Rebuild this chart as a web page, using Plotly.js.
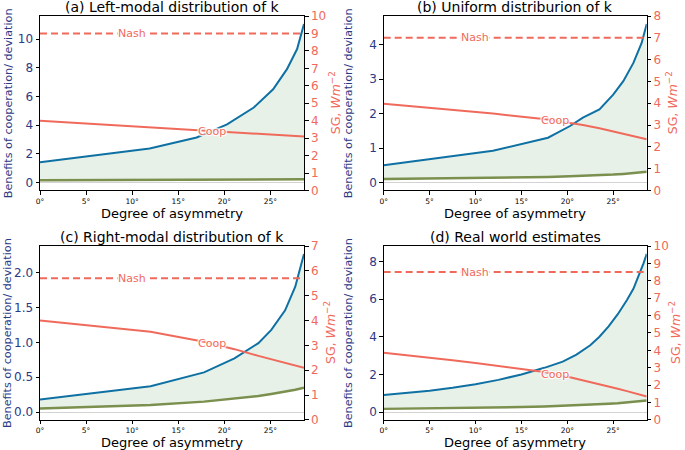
<!DOCTYPE html>
<html>
<head>
<meta charset="utf-8">
<script src="https://cdn.plot.ly/plotly-3.0.1.min.js"></script>
<style>html,body{margin:0;padding:0;background:#fff}#chart{width:685px;height:450px}</style>
</head>
<body>
<div id="chart"></div>
<script>
// ---- Data (degrees of asymmetry on x) ----
const titles = ["(a) Left-modal distribution of k", "(b) Uniform distriburion of k",
                "(c) Right-modal distribution of k", "(d) Real world estimates"];
const xTickVals = [0, 5, 10, 15, 20, 25];
const xTickText = ["0°", "5°", "10°", "15°", "20°", "25°"];

// (a) Left-modal
const xA     = [0, 11.9, 17, 20.3, 23.2, 25.3, 26.8, 27.9, 28.65];
const benA   = [1.42, 2.37, 3.14, 4.05, 5.23, 6.5, 7.9, 9.3, 11.05];
const devA   = [0.16, 0.18, 0.19, 0.2, 0.21, 0.22, 0.225, 0.23, 0.235];
const coopA  = [3.99, 3.62, 3.46, 3.35, 3.26, 3.2, 3.15, 3.11, 3.09];
const nashA  = 9.0;

// (b) Uniform
const xB     = [0, 11.9, 17.9, 20.3, 21.7, 23.5, 25, 26.1, 27.2, 28.1, 28.65];
const benB   = [0.5, 0.92, 1.3, 1.64, 1.88, 2.12, 2.55, 2.94, 3.47, 4.05, 4.6];
const devB   = [0.1, 0.13, 0.16, 0.18, 0.19, 0.21, 0.23, 0.25, 0.27, 0.29, 0.31];
const coopB  = [3.98, 3.53, 3.25, 3.1, 3.0, 2.85, 2.7, 2.6, 2.5, 2.41, 2.35];
const nashB  = 7.0;

// (c) Right-modal
const xC     = [0, 12, 17.8, 21.1, 23.7, 25.1, 26.6, 27.7, 28.65];
const benC   = [0.18, 0.37, 0.57, 0.77, 0.99, 1.18, 1.46, 1.8, 2.27];
const devC   = [0.05, 0.1, 0.15, 0.19, 0.23, 0.26, 0.29, 0.32, 0.35];
const coopC  = [4.0, 3.55, 3.15, 2.85, 2.58, 2.45, 2.3, 2.2, 2.1];
const nashC  = 5.7;

// (d) Real world
const xD     = [0, 2.5, 5, 7.5, 10, 12.5, 15, 17.5, 19.5, 21, 22.5, 23.5, 24.5, 25.5, 26.5, 27.2, 27.9, 28.3, 28.65];
const benD   = [0.91, 1.0, 1.13, 1.29, 1.48, 1.71, 2.0, 2.35, 2.68, 3.05, 3.55, 4.0, 4.55, 5.2, 5.95, 6.55, 7.35, 7.9, 8.4];
const devD   = [0.17, 0.18, 0.19, 0.2, 0.22, 0.24, 0.27, 0.3, 0.33, 0.36, 0.39, 0.41, 0.44, 0.47, 0.51, 0.54, 0.57, 0.6, 0.62];
const coopD  = [3.86, 3.73, 3.58, 3.43, 3.27, 3.1, 2.95, 2.76, 2.56, 2.38, 2.19, 2.06, 1.93, 1.8, 1.66, 1.57, 1.47, 1.41, 1.35];
const nashD  = 8.5;

// ---- Styles ----
const BLUE = "#0f71a3", SALMON = "#f06a5c", OLIVE = "#7b8f4e", NAVY = "#2b3a86";
const FILL = "rgba(120,175,120,0.18)";
const FONT = "DejaVu Sans, Arial, sans-serif";

const panels = [
  {x: xA, ben: benA, dev: devA, coop: coopA, nash: nashA, rmax: 10, ldtick: 2, lfmt: "", xdom: [0.0584, 0.4438], ydom: [0.5767, 0.9644], ltx: 8, rtx: 335},
  {x: xB, ben: benB, dev: devB, coop: coopB, nash: nashB, rmax: 8,  ldtick: 1, lfmt: "", xdom: [0.5601, 0.9441], ydom: [0.5767, 0.9644], ltx: 348, rtx: 672},
  {x: xC, ben: benC, dev: devC, coop: coopC, nash: nashC, rmax: 7,  ldtick: 0.5, lfmt: ".1f", xdom: [0.0584, 0.4438], ydom: [0.0667, 0.4533], ltx: 7, rtx: 330},
  {x: xD, ben: benD, dev: devD, coop: coopD, nash: nashD, rmax: 10, ldtick: 2, lfmt: "", xdom: [0.5601, 0.9441], ydom: [0.0667, 0.4533], ltx: 348, rtx: 675}
];

function interp(xs, ys, x) {
  for (let i = 0; i < xs.length - 1; i++) {
    if (x >= xs[i] && x <= xs[i + 1]) {
      const t = (x - xs[i]) / (xs[i + 1] - xs[i]);
      return ys[i] + t * (ys[i + 1] - ys[i]);
    }
  }
  return ys[ys.length - 1];
}

const data = [];
const layout = {
  width: 685, height: 450,
  margin: {l: 0, r: 0, t: 0, b: 0},
  paper_bgcolor: "#fff", plot_bgcolor: "#fff",
  showlegend: false,
  font: {family: FONT, size: 11, color: "#000"},
  annotations: []
};

const halo = "1px 1px 1px #fff, -1px -1px 1px #fff, 1px -1px 1px #fff, -1px 1px 1px #fff, 0 0 2px #fff";

panels.forEach((p, i) => {
  const xn = i === 0 ? "x" : "x" + (i + 1);
  const yl = "y" + (2 * i === 0 ? "" : (2 * i + 1));
  const yr = "y" + (2 * i + 2);
  const xKey = i === 0 ? "xaxis" : "xaxis" + (i + 1);
  const ylKey = 2 * i === 0 ? "yaxis" : "yaxis" + (2 * i + 1);
  const yrKey = "yaxis" + (2 * i + 2);

  const bmax = Math.max(...p.ben);
  const pad = 0.05 * bmax;
  const xmax = p.x[p.x.length - 1];

  data.push({x: p.x, y: p.dev, xaxis: xn, yaxis: yl, type: "scatter", mode: "lines",
             line: {color: OLIVE, width: 2.5}, hoverinfo: "skip"});
  data.push({x: p.x, y: p.ben, xaxis: xn, yaxis: yl, type: "scatter", mode: "lines",
             line: {color: BLUE, width: 2}, fill: "tonexty", fillcolor: FILL, hoverinfo: "skip"});
  data.push({x: p.x, y: p.coop, xaxis: xn, yaxis: yr, type: "scatter", mode: "lines",
             line: {color: SALMON, width: 2}, hoverinfo: "skip"});
  data.push({x: p.x, y: p.x.map(() => p.nash), xaxis: xn, yaxis: yr, type: "scatter", mode: "lines",
             line: {color: SALMON, width: 2, dash: "7px,4px"}, hoverinfo: "skip"});

  layout[xKey] = {
    domain: p.xdom, anchor: yl, range: [0, xmax],
    tickvals: xTickVals, ticktext: xTickText, tickfont: {size: 7.5, color: "#000"},
    ticks: "outside", ticklen: 3.5, tickcolor: "#000",
    showline: true, linecolor: "#000", linewidth: 1, mirror: true,
    showgrid: false, zeroline: false
  };
  layout[ylKey] = {
    domain: p.ydom, anchor: xn, range: [-pad, bmax + pad],
    dtick: p.ldtick, tick0: 0, tickformat: p.lfmt, tickfont: {size: 12, color: NAVY},
    ticks: "outside", ticklen: 3.5, tickcolor: "#000",
    showline: true, linecolor: "#000", linewidth: 1,
    showgrid: false, zeroline: true, zerolinecolor: "#d3d3d3", zerolinewidth: 1
  };
  layout[yrKey] = {
    domain: p.ydom, anchor: xn, overlaying: yl, side: "right", range: [0, p.rmax],
    dtick: 1, tick0: 0, tickfont: {size: 12, color: SALMON},
    ticks: "outside", ticklen: 3.5, tickcolor: "#000",
    showline: true, linecolor: "#000", linewidth: 1,
    showgrid: false, zeroline: false
  };

  const x1 = p.xdom[1], x0 = p.xdom[0];
  const yc = (p.ydom[0] + p.ydom[1]) / 2;
  const xc = (x0 + x1) / 2;

  layout.annotations.push({text: titles[i], xref: "paper", yref: "paper", x: xc, y: p.ydom[1] + 9 / 450,
    xanchor: "center", yanchor: "middle", showarrow: false, font: {size: 14, color: "#000"}});
  layout.annotations.push({text: "Degree of asymmetry", xref: "paper", yref: "paper", x: xc, y: p.ydom[0] - 23 / 450,
    xanchor: "center", yanchor: "middle", showarrow: false, font: {size: 13, color: "#000"}});
  layout.annotations.push({text: "Benefits of cooperation/ deviation", xref: "paper", yref: "paper",
    x: p.ltx / 685, y: yc, xanchor: "center", yanchor: "middle", textangle: -90, showarrow: false,
    font: {size: 11.2, color: NAVY}});
  layout.annotations.push({text: "SG, <i>Wm</i><sup>−2</sup>", xref: "paper", yref: "paper",
    x: p.rtx / 685, y: yc, xanchor: "center", yanchor: "middle", textangle: -90,
    showarrow: false, font: {size: 12.5, color: SALMON}});
  layout.annotations.push({text: "Nash", xref: xn, yref: yr, x: 10, y: p.nash, showarrow: false,
    xanchor: "center", yanchor: "middle", bgcolor: "#fff", borderpad: 0,
    font: {size: 11, color: SALMON}});
  layout.annotations.push({text: "Coop", xref: xn, yref: yr, x: 18.7, y: interp(p.x, p.coop, 18.7), showarrow: false,
    xanchor: "center", yanchor: "middle",
    font: {size: 11, color: SALMON, shadow: halo}});
});

Plotly.newPlot("chart", data, layout, {staticPlot: true, displayModeBar: false});
</script>
</body>
</html>
